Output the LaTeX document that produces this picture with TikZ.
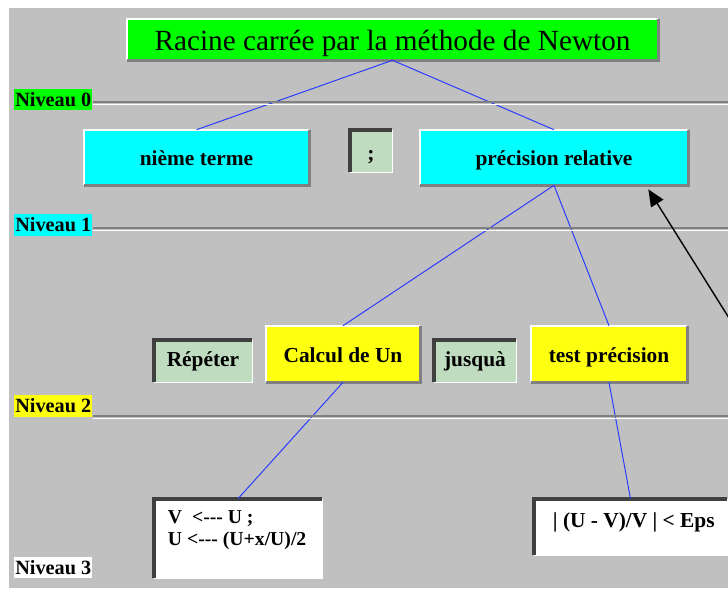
\documentclass[tikz,border=0pt]{standalone}
\usepackage{fontspec}
\setmainfont{Liberation Serif}
\usetikzlibrary{arrows.meta,calc}
\definecolor{fondgris}{RGB}{192,192,192}
\definecolor{ombre}{RGB}{128,128,128}
\definecolor{sombre}{RGB}{64,64,64}
\definecolor{vertpale}{RGB}{192,220,192}
\definecolor{vertvif}{RGB}{0,255,0}
\definecolor{cyanvif}{RGB}{0,255,255}
\definecolor{jaunevif}{RGB}{255,255,16}
\definecolor{bleutrait}{RGB}{40,60,255}

\newcommand{\fleche}{<\mbox{-}\mbox{-}\mbox{-}}

\begin{document}
\begin{tikzpicture}[x=0.025cm,y=-0.025cm,
  every node/.style={font=\fontsize{15.2}{18}\selectfont\bfseries,inner sep=0pt},
  haut/.style={fill=#1,text height=12pt,text depth=0pt},
  creux/.style={fill=vertpale,text height=10pt,text depth=2pt},
  blanc/.style={fill=white},
  niveau/.style={anchor=west,minimum width=1.95cm,minimum height=0.54cm,
                 font=\fontsize{14.4}{16}\selectfont\bfseries},
  lien/.style={bleutrait,line width=0.7pt},
  eclaire/.style={white,line width=1.4pt},
  portee/.style={ombre,line width=2pt},
  enfonce/.style={sombre,line width=2.6pt},
  reflet/.style={white,line width=1pt},
  ligne/.style={ombre,line width=0.8pt},
]

%% fond
\useasboundingbox (0,0) rectangle (728,588);
\fill[fondgris] (9,8) rectangle (728,588);

%% titre
\node[haut=vertvif,minimum width=13.275cm,minimum height=1.025cm,text height=15pt,
      font=\fontsize{20.8}{24}\selectfont] (titre) at (392.5,39.5)
  {Racine carrée par la méthode de Newton};

%% niveau 1
\node[haut=cyanvif,minimum width=5.625cm,minimum height=1.375cm] (terme) at (196.5,157.5) {nième terme};
\node[creux,minimum size=1.05cm,text height=14pt,text depth=0pt] (pointvirgule) at (371,151) {;};
\node[haut=cyanvif,minimum width=6.7cm,minimum height=1.375cm] (prec) at (554,157.5) {précision relative};

%% niveau 2
\node[creux,minimum width=2.45cm,minimum height=1.05cm] (repeter) at (203,361) {Répéter};
\node[haut=jaunevif,minimum width=3.85cm,minimum height=1.4cm] (calcul) at (343,354) {Calcul de Un};
\node[creux,minimum width=2.05cm,minimum height=1.05cm] (jusqua) at (475,361) {jusquà};
\node[haut=jaunevif,minimum width=3.9cm,minimum height=1.4cm] (test) at (609,354) {test précision};

%% niveau 3
\node[blanc,minimum width=4.2cm,minimum height=1.975cm] (affect) at (238,538.5) {};
\node[anchor=north west,align=left,font=\fontsize{14}{15.6}\selectfont\bfseries] (affecttxt)
  at ([xshift=0.35cm,yshift=-0.3cm]affect.north west)
  {V~ \fleche\ U ;\\U \fleche\ (U+x/U)/2};
\node[blanc,minimum width=4.825cm,minimum height=1.4cm] (critere) at (630.5,527) {};
\node[anchor=north west] (criteretxt)
  at ([xshift=0.475cm,yshift=-0.33cm]critere.north west)
  {| (U - V)/V | < Eps};

%% reliefs
\foreach \n in {titre,terme,prec,calcul,test} {
  \draw[eclaire] (\n.south west) |- (\n.north east);
  \draw[portee] (\n.north east) |- (\n.south west);
}
\foreach \n in {pointvirgule,repeter,jusqua,affect,critere} {
  \draw[reflet] (\n.north east) |- (\n.south west);
  \draw[enfonce] (\n.south west) |- (\n.north east);
}

%% arbre
\draw[lien] (titre.south) -- (terme.north);
\draw[lien] (titre.south) -- (prec.north);
\draw[lien] (prec.south) -- (calcul.north);
\draw[lien] (prec.south) -- (test.north);
\draw[lien] (calcul.south) -- (affect.north);
\draw[lien] (test.south) -- (critere.north);

%% etiquettes de niveau
\node[niveau,fill=vertvif] (niv0) at (14,99.5) {Niveau 0};
\node[niveau,fill=cyanvif] (niv1) at (14,225) {Niveau 1};
\node[niveau,fill=jaunevif] (niv2) at (14,406) {Niveau 2};
\node[niveau,fill=white] (niv3) at (14,567.5) {Niveau 3};
\foreach \n/\y in {niv0/102,niv1/228,niv2/416} {
  \draw[ligne] (\n.east |- 0,\y) -- (728,\y);
  \draw[white,line width=0.7pt] (\n.east |- 0,\y+2) -- (728,\y+2);
}

%% fleche
\coordinate (bord) at (729,318);
\draw[line width=1pt,-{Triangle[length=0.42cm,width=0.36cm]}]
  (bord) -- ([xshift=-1.0cm,yshift=-0.1cm]prec.south east);

\end{tikzpicture}
\end{document}
